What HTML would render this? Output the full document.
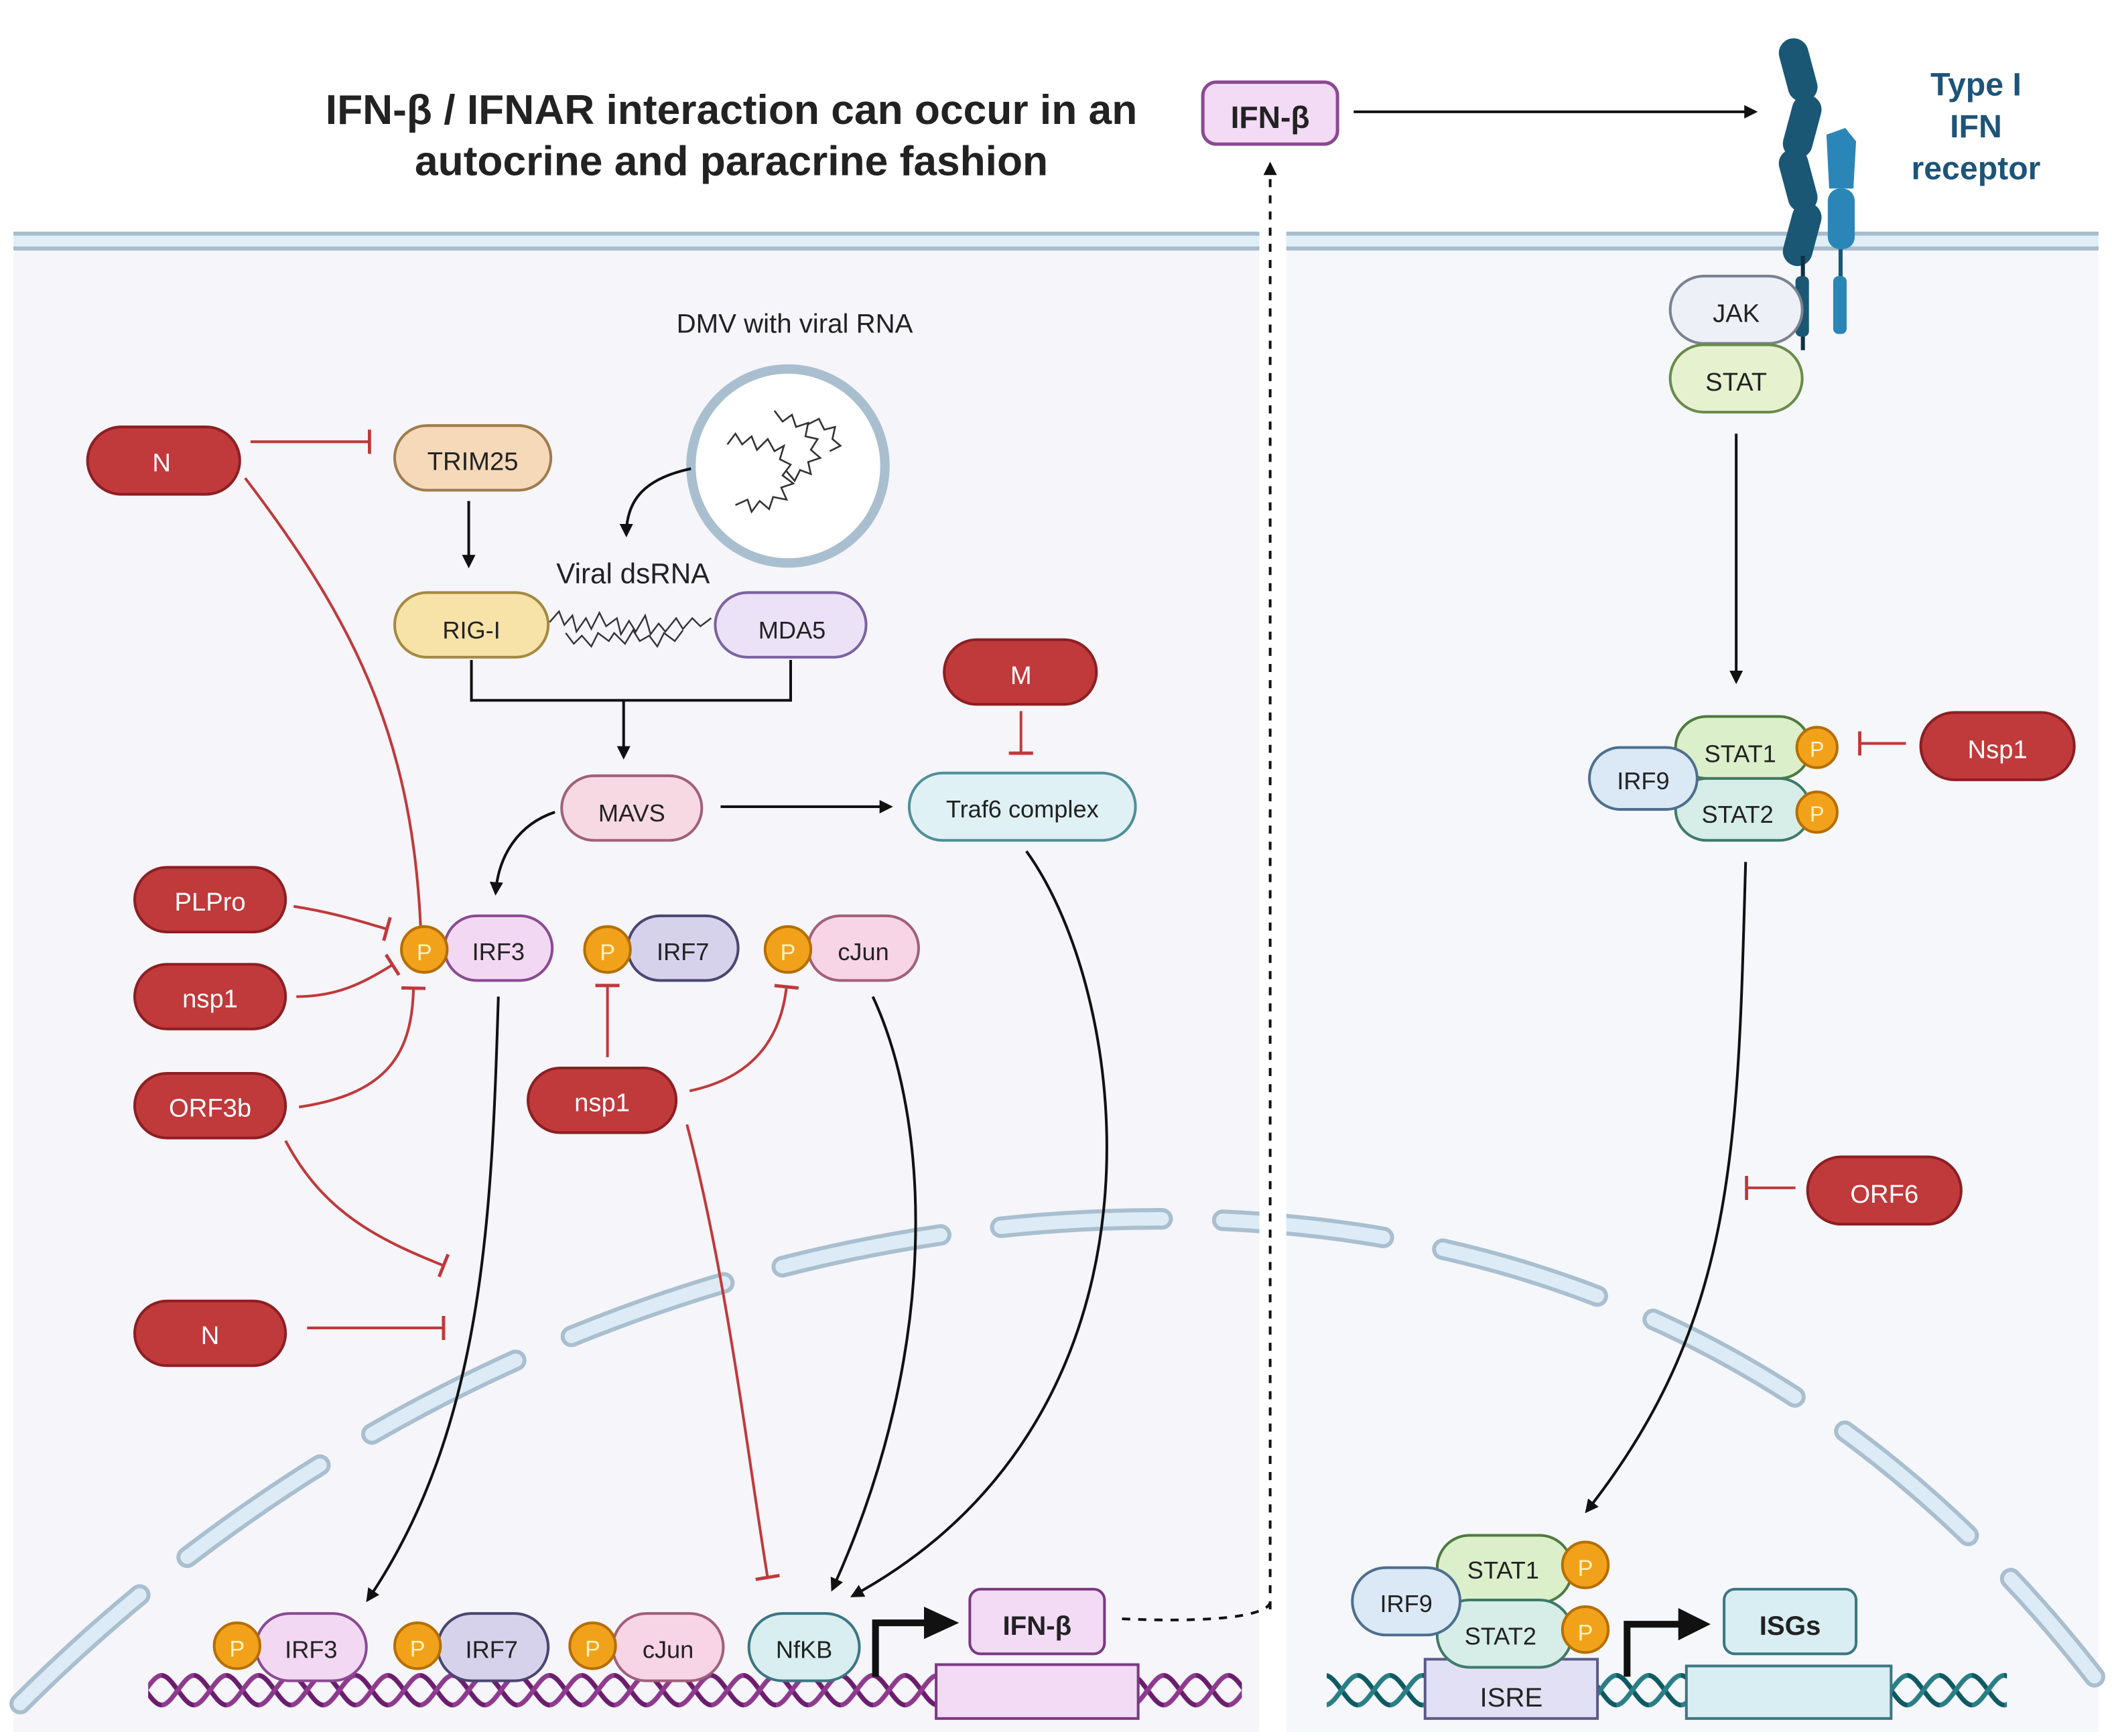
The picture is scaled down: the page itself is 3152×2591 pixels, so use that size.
<!DOCTYPE html>
<html><head><meta charset="utf-8">
<style>
html,body{margin:0;padding:0;background:#fff;}
svg{display:block;}
text{font-family:"Liberation Sans",sans-serif;}
</style></head><body>
<svg width="3152" height="2591" viewBox="0 0 1568 1289" preserveAspectRatio="none" xmlns="http://www.w3.org/2000/svg">
<defs>
<marker id="ar" markerWidth="10" markerHeight="10" refX="8" refY="5" orient="auto" markerUnits="userSpaceOnUse"><path d="M0,0 L10,5 L0,10 z" fill="#111"/></marker>
<marker id="tb" markerWidth="4" markerHeight="18" refX="2" refY="9" orient="auto" markerUnits="userSpaceOnUse"><rect x="0" y="0" width="2.5" height="18" fill="#c0393b"/></marker>
<pattern id="dnaP" width="24" height="30" patternUnits="userSpaceOnUse" y="1240">
<path d="M0,4 C8,4 16,26 24,26" fill="none" stroke="#6b1d6e" stroke-width="3.5"/>
<path d="M0,26 C8,26 16,4 24,4" fill="none" stroke="#8e3a8f" stroke-width="3.5"/>
</pattern>
<pattern id="dnaT" width="24" height="30" patternUnits="userSpaceOnUse" y="1240">
<path d="M0,4 C8,4 16,26 24,26" fill="none" stroke="#0e5a63" stroke-width="3.5"/>
<path d="M0,26 C8,26 16,4 24,4" fill="none" stroke="#2a7f86" stroke-width="3.5"/>
</pattern>
</defs>

<!-- backgrounds -->
<rect x="0" y="0" width="1568" height="1289" fill="#fff"/>
<rect x="10" y="186" width="925" height="1100" fill="#f5f5fa"/>
<rect x="955" y="186" width="603" height="1100" fill="#f5f7fb"/>
<!-- membrane -->
<rect x="10" y="172" width="925" height="14" fill="#e0eef8"/>
<rect x="10" y="172" width="925" height="3" fill="#a8bccb"/>
<rect x="10" y="183" width="925" height="3" fill="#a8bccb"/>
<rect x="955" y="172" width="603" height="14" fill="#e0eef8"/>
<rect x="955" y="172" width="603" height="3" fill="#a8bccb"/>
<rect x="955" y="183" width="603" height="3" fill="#a8bccb"/>

<!-- nuclear envelope -->
<path d="M15,1265 C250,1030 560,905 860,905 C1150,905 1380,1020 1555,1245" fill="none" stroke="#a9bfcf" stroke-width="16" stroke-dasharray="120 45" stroke-linecap="round"/>
<path d="M15,1265 C250,1030 560,905 860,905 C1150,905 1380,1020 1555,1245" fill="none" stroke="#dcebf5" stroke-width="10" stroke-dasharray="120 45" stroke-linecap="round"/>
<rect x="935" y="880" width="20" height="60" fill="#fff"/>

<!-- title -->
<text x="543" y="92" font-size="31" font-weight="bold" text-anchor="middle" fill="#222">IFN-β / IFNAR interaction can occur in an</text>
<text x="543" y="130" font-size="31" font-weight="bold" text-anchor="middle" fill="#222">autocrine and paracrine fashion</text>
<rect x="893" y="61" width="100" height="46" rx="10" fill="#f3daf5" stroke="#8a4a92" stroke-width="2.5"/>
<text x="943" y="95" font-size="23" font-weight="bold" text-anchor="middle" fill="#222">IFN-β</text>
<line x1="1005" y1="83" x2="1303" y2="83" stroke="#111" stroke-width="2" marker-end="url(#ar)"/>
<line x1="943" y1="1195" x2="943" y2="122" stroke="#111" stroke-width="2" stroke-dasharray="6 6" marker-end="url(#ar)"/>
<path d="M833,1202 C900,1205 940,1200 943,1190" fill="none" stroke="#111" stroke-width="2" stroke-dasharray="6 6"/>

<!-- receptor -->
<g>
<rect x="1324" y="28" width="22" height="48" rx="11" fill="#1a5775" transform="rotate(-15 1335 52)"/>
<rect x="1327" y="70" width="22" height="48" rx="11" fill="#1a5775" transform="rotate(15 1338 94)"/>
<rect x="1324" y="110" width="22" height="48" rx="11" fill="#1a5775" transform="rotate(-15 1335 134)"/>
<rect x="1327" y="150" width="22" height="48" rx="11" fill="#1a5775" transform="rotate(15 1338 174)"/>
<rect x="1337" y="190" width="3" height="70" fill="#0e2f42"/>
<rect x="1333" y="205" width="10" height="45" rx="4" fill="#1a5775"/>
<path d="M1356,100 L1370,95 L1378,105 L1376,140 L1358,140 Z" fill="#2b86b8"/>
<rect x="1357" y="140" width="20" height="45" rx="9" fill="#2b86b8"/>
<rect x="1365" y="185" width="3" height="30" fill="#1a5775"/>
<rect x="1361" y="205" width="10" height="43" rx="4" fill="#2b86b8"/>
</g>
<text x="1467" y="71" font-size="24" font-weight="bold" text-anchor="middle" fill="#1d5478">Type I</text>
<text x="1467" y="102" font-size="24" font-weight="bold" text-anchor="middle" fill="#1d5478">IFN</text>
<text x="1467" y="133" font-size="24" font-weight="bold" text-anchor="middle" fill="#1d5478">receptor</text>

<!-- JAK STAT -->
<rect x="1240" y="205" width="98" height="50" rx="25" fill="#eef0f8" stroke="#7a8290" stroke-width="2"/>
<text x="1289" y="239" font-size="19" text-anchor="middle" fill="#222">JAK</text>
<rect x="1240" y="256" width="98" height="50" rx="25" fill="#e6f2cf" stroke="#6a8a4b" stroke-width="2"/>
<text x="1289" y="290" font-size="19" text-anchor="middle" fill="#222">STAT</text>
<line x1="1289" y1="322" x2="1289" y2="506" stroke="#111" stroke-width="2" marker-end="url(#ar)"/>

<!-- right STAT complex -->
<rect x="1244" y="532" width="100" height="46" rx="23" fill="#dcefcb" stroke="#4f7a3e" stroke-width="2"/>
<text x="1292" y="566" font-size="18" text-anchor="middle" fill="#222">STAT1</text>
<rect x="1244" y="578" width="100" height="46" rx="23" fill="#d6ede8" stroke="#3f7a68" stroke-width="2"/>
<text x="1290" y="611" font-size="18" text-anchor="middle" fill="#222">STAT2</text>
<rect x="1180" y="555" width="80" height="46" rx="23" fill="#dbe8f5" stroke="#4d6f8e" stroke-width="2"/>
<text x="1220" y="586" font-size="18" text-anchor="middle" fill="#222">IRF9</text>
<circle cx="1349" cy="555" r="15" fill="#f2a21a" stroke="#b56e00" stroke-width="2"/><text x="1349" y="562" font-size="16" text-anchor="middle" fill="#fff3c0">P</text>
<circle cx="1349" cy="603" r="15" fill="#f2a21a" stroke="#b56e00" stroke-width="2"/><text x="1349" y="610" font-size="16" text-anchor="middle" fill="#fff3c0">P</text>
<line x1="1415" y1="552" x2="1380" y2="552" stroke="#c0393b" stroke-width="2" marker-end="url(#tb)"/>
<rect x="1426" y="529" width="114" height="50" rx="25" fill="#c0393b" stroke="#8c1f22" stroke-width="2"/>
<text x="1483" y="563" font-size="19" text-anchor="middle" fill="#fff">Nsp1</text>
<path d="M1296,640 C1290,850 1290,980 1178,1122" fill="none" stroke="#111" stroke-width="2" marker-end="url(#ar)"/>
<line x1="1333" y1="882" x2="1296" y2="882" stroke="#c0393b" stroke-width="2" marker-end="url(#tb)"/>
<rect x="1342" y="859" width="114" height="50" rx="25" fill="#c0393b" stroke="#8c1f22" stroke-width="2"/>
<text x="1399" y="893" font-size="19" text-anchor="middle" fill="#fff">ORF6</text>

<!-- right DNA -->
<rect x="985" y="1240" width="505" height="30" fill="url(#dnaT)"/>
<rect x="1058" y="1232" width="128" height="44" fill="#e2e0f5" stroke="#5c5a8a" stroke-width="2"/>
<text x="1122" y="1267" font-size="20" text-anchor="middle" fill="#222">ISRE</text>
<rect x="1252" y="1237" width="152" height="39" fill="#d8eef3" stroke="#3b7682" stroke-width="2"/>
<rect x="1280" y="1180" width="98" height="48" rx="8" fill="#d8eef3" stroke="#3b7682" stroke-width="2"/>
<text x="1329" y="1214" font-size="20" font-weight="bold" text-anchor="middle" fill="#222">ISGs</text>
<path d="M1208,1245 L1208,1206 L1250,1206" fill="none" stroke="#111" stroke-width="5"/>
<path d="M1246,1194 L1270,1206 L1246,1218 Z" fill="#111"/>
<rect x="1067" y="1140" width="100" height="50" rx="24" fill="#dcefcb" stroke="#4f7a3e" stroke-width="2"/>
<text x="1116" y="1172" font-size="18" text-anchor="middle" fill="#222">STAT1</text>
<rect x="1067" y="1188" width="100" height="50" rx="24" fill="#d6ede8" stroke="#3f7a68" stroke-width="2"/>
<text x="1114" y="1221" font-size="18" text-anchor="middle" fill="#222">STAT2</text>
<rect x="1004" y="1164" width="80" height="50" rx="25" fill="#dbe8f5" stroke="#4d6f8e" stroke-width="2"/>
<text x="1044" y="1197" font-size="18" text-anchor="middle" fill="#222">IRF9</text>
<circle cx="1177" cy="1162" r="17" fill="#f2a21a" stroke="#b56e00" stroke-width="2"/><text x="1177" y="1170" font-size="17" text-anchor="middle" fill="#fff3c0">P</text>
<circle cx="1177" cy="1210" r="17" fill="#f2a21a" stroke="#b56e00" stroke-width="2"/><text x="1177" y="1218" font-size="17" text-anchor="middle" fill="#fff3c0">P</text>

<!-- DMV -->
<text x="590" y="247" font-size="20" text-anchor="middle" fill="#222">DMV with viral RNA</text>
<circle cx="585" cy="346" r="72" fill="#fff" stroke="#a9bfcf" stroke-width="7"/>
<path d="M540,330 l6,-8 l5,8 l7,-6 l4,10 l8,-8 l5,9 l7,-4 l-3,10 l8,4 l-6,8 l8,6 l-9,3 l4,9 l-10,-2 l-3,9 l-7,-6 l-6,8 l-3,-9 l-9,4 M575,305 l6,8 l7,-5 l3,9 l9,-3 l-2,10 l9,2 l-5,8 l7,6 l-9,3 l2,9 l-8,-3 l-4,8 l-6,-7 M600,315 l8,-4 l4,8 l8,-2 l-2,9 l6,5 l-8,4" fill="none" stroke="#333" stroke-width="1.3"/>
<path d="M513,348 C480,355 465,370 465,397" fill="none" stroke="#111" stroke-width="2" marker-end="url(#ar)"/>

<!-- N top -->
<rect x="65" y="317" width="113" height="50" rx="25" fill="#c0393b" stroke="#8c1f22" stroke-width="2"/>
<text x="120" y="350" font-size="19" text-anchor="middle" fill="#fff">N</text>
<line x1="186" y1="328" x2="275" y2="328" stroke="#c0393b" stroke-width="2" marker-end="url(#tb)"/>
<rect x="293" y="316" width="116" height="48" rx="24" fill="#f5d9b8" stroke="#a07b4c" stroke-width="2"/>
<text x="351" y="349" font-size="19" text-anchor="middle" fill="#222">TRIM25</text>
<line x1="348" y1="372" x2="348" y2="420" stroke="#111" stroke-width="2" marker-end="url(#ar)"/>
<text x="470" y="433" font-size="21" text-anchor="middle" fill="#222">Viral dsRNA</text>
<rect x="293" y="440" width="114" height="48" rx="24" fill="#f7e2a8" stroke="#a48a40" stroke-width="2"/>
<text x="350" y="474" font-size="18" text-anchor="middle" fill="#222">RIG-I</text>
<path d="M408,462 l7,-8 l4,10 l6,-7 l3,12 l7,-10 l4,8 l6,-12 l5,10 l8,-6 l3,12 l6,-10 l5,8 l7,-12 l4,14 l6,-8 l5,6 l8,-10 l5,8 l7,-8 l6,6 l8,-6 M420,470 l6,8 l6,-6 l7,8 l5,-10 l8,6 l4,-6 l8,8 l6,-10 l5,8 l7,-4 l6,8 l5,-10 l8,6 l6,-8" fill="none" stroke="#333" stroke-width="1.2"/>
<rect x="531" y="440" width="112" height="48" rx="24" fill="#ece2f7" stroke="#7b62a0" stroke-width="2"/>
<text x="588" y="474" font-size="18" text-anchor="middle" fill="#222">MDA5</text>
<path d="M350,490 L350,520 L587,520 L587,490" fill="none" stroke="#111" stroke-width="2"/>
<line x1="463" y1="520" x2="463" y2="562" stroke="#111" stroke-width="2" marker-end="url(#ar)"/>
<rect x="417" y="576" width="104" height="48" rx="24" fill="#f7d9e4" stroke="#a0607a" stroke-width="2"/>
<text x="469" y="610" font-size="18" text-anchor="middle" fill="#222">MAVS</text>
<line x1="535" y1="599" x2="661" y2="599" stroke="#111" stroke-width="2" marker-end="url(#ar)"/>
<rect x="701" y="475" width="113" height="48" rx="24" fill="#c0393b" stroke="#8c1f22" stroke-width="2"/>
<text x="758" y="508" font-size="19" text-anchor="middle" fill="#fff">M</text>
<line x1="758" y1="528" x2="758" y2="560" stroke="#c0393b" stroke-width="2" marker-end="url(#tb)"/>
<rect x="675" y="574" width="168" height="50" rx="25" fill="#dff1f4" stroke="#4f8f98" stroke-width="2"/>
<text x="759" y="607" font-size="18" text-anchor="middle" fill="#222">Traf6 complex</text>
<path d="M412,603 C385,612 370,635 368,663" fill="none" stroke="#111" stroke-width="2" marker-end="url(#ar)"/>

<!-- red left pills -->
<g font-size="19" text-anchor="middle" fill="#fff">
<rect x="100" y="644" width="112" height="48" rx="24" fill="#c0393b" stroke="#8c1f22" stroke-width="2"/><text x="156" y="676">PLPro</text>
<rect x="100" y="716" width="112" height="48" rx="24" fill="#c0393b" stroke="#8c1f22" stroke-width="2"/><text x="156" y="748">nsp1</text>
<rect x="100" y="797" width="112" height="48" rx="24" fill="#c0393b" stroke="#8c1f22" stroke-width="2"/><text x="156" y="829">ORF3b</text>
<rect x="100" y="966" width="112" height="48" rx="24" fill="#c0393b" stroke="#8c1f22" stroke-width="2"/><text x="156" y="998">N</text>
<rect x="392" y="793" width="110" height="48" rx="24" fill="#c0393b" stroke="#8c1f22" stroke-width="2"/><text x="447" y="825">nsp1</text>
</g>
<g fill="none" stroke="#c0393b" stroke-width="2">
<path d="M182,355 C270,470 310,560 313,710" marker-end="url(#tb)"/>
<path d="M218,673 C250,678 270,685 288,690" marker-end="url(#tb)"/>
<path d="M220,740 C250,740 270,730 292,716" marker-end="url(#tb)"/>
<path d="M222,822 C290,812 306,780 307,733" marker-end="url(#tb)"/>
<path d="M212,847 C240,900 280,920 330,940" marker-end="url(#tb)"/>
<line x1="228" y1="986" x2="330" y2="986" marker-end="url(#tb)"/>
<line x1="451" y1="785" x2="451" y2="731" marker-end="url(#tb)"/>
<path d="M512,810 C560,800 580,770 584,732" marker-end="url(#tb)"/>
<path d="M510,835 C540,950 555,1080 570,1172" marker-end="url(#tb)"/>
</g>

<!-- middle IRF3/7/cJun -->
<rect x="330" y="680" width="80" height="48" rx="24" fill="#f2d8f2" stroke="#8a4a92" stroke-width="2"/><text x="370" y="713" font-size="18" text-anchor="middle" fill="#222">IRF3</text>
<circle cx="315" cy="705" r="17" fill="#f2a21a" stroke="#b56e00" stroke-width="2"/><text x="315" y="713" font-size="17" text-anchor="middle" fill="#fff3c0">P</text>
<rect x="466" y="680" width="82" height="48" rx="24" fill="#d6d2ec" stroke="#4a4670" stroke-width="2"/><text x="507" y="713" font-size="18" text-anchor="middle" fill="#222">IRF7</text>
<circle cx="451" cy="705" r="17" fill="#f2a21a" stroke="#b56e00" stroke-width="2"/><text x="451" y="713" font-size="17" text-anchor="middle" fill="#fff3c0">P</text>
<rect x="600" y="680" width="82" height="48" rx="24" fill="#f7d4e6" stroke="#a0607a" stroke-width="2"/><text x="641" y="713" font-size="18" text-anchor="middle" fill="#222">cJun</text>
<circle cx="585" cy="705" r="17" fill="#f2a21a" stroke="#b56e00" stroke-width="2"/><text x="585" y="713" font-size="17" text-anchor="middle" fill="#fff3c0">P</text>

<!-- black arrows to nucleus -->
<g fill="none" stroke="#111" stroke-width="2" marker-end="url(#ar)">
<path d="M370,740 C365,900 360,1060 273,1188"/>
<path d="M648,740 C690,830 700,1000 618,1180"/>
<path d="M762,632 C840,740 880,1050 633,1185"/>
</g>

<!-- left DNA -->
<rect x="110" y="1240" width="812" height="30" fill="url(#dnaP)"/>
<rect x="695" y="1236" width="150" height="40" fill="#f3daf5" stroke="#7a3a82" stroke-width="2"/>
<rect x="720" y="1180" width="100" height="48" rx="8" fill="#f3daf5" stroke="#7a3a82" stroke-width="2"/>
<text x="770" y="1214" font-size="20" font-weight="bold" text-anchor="middle" fill="#222">IFN-β</text>
<path d="M650,1245 L650,1205 L690,1205" fill="none" stroke="#111" stroke-width="5"/>
<path d="M686,1193 L712,1205 L686,1217 Z" fill="#111"/>

<rect x="190" y="1198" width="82" height="50" rx="25" fill="#f2d8f2" stroke="#8a4a92" stroke-width="2"/><text x="231" y="1231" font-size="18" text-anchor="middle" fill="#222">IRF3</text>
<circle cx="176" cy="1222" r="17" fill="#f2a21a" stroke="#b56e00" stroke-width="2"/><text x="176" y="1230" font-size="17" text-anchor="middle" fill="#fff3c0">P</text>
<rect x="325" y="1198" width="82" height="50" rx="25" fill="#d6d2ec" stroke="#4a4670" stroke-width="2"/><text x="365" y="1231" font-size="18" text-anchor="middle" fill="#222">IRF7</text>
<circle cx="310" cy="1222" r="17" fill="#f2a21a" stroke="#b56e00" stroke-width="2"/><text x="310" y="1230" font-size="17" text-anchor="middle" fill="#fff3c0">P</text>
<rect x="455" y="1198" width="82" height="50" rx="25" fill="#f7d4e6" stroke="#a0607a" stroke-width="2"/><text x="496" y="1231" font-size="18" text-anchor="middle" fill="#222">cJun</text>
<circle cx="440" cy="1222" r="17" fill="#f2a21a" stroke="#b56e00" stroke-width="2"/><text x="440" y="1230" font-size="17" text-anchor="middle" fill="#fff3c0">P</text>
<rect x="556" y="1198" width="82" height="50" rx="25" fill="#d8eef0" stroke="#3b7682" stroke-width="2"/><text x="597" y="1231" font-size="18" text-anchor="middle" fill="#222">NfKB</text>
</svg>
</body></html>
